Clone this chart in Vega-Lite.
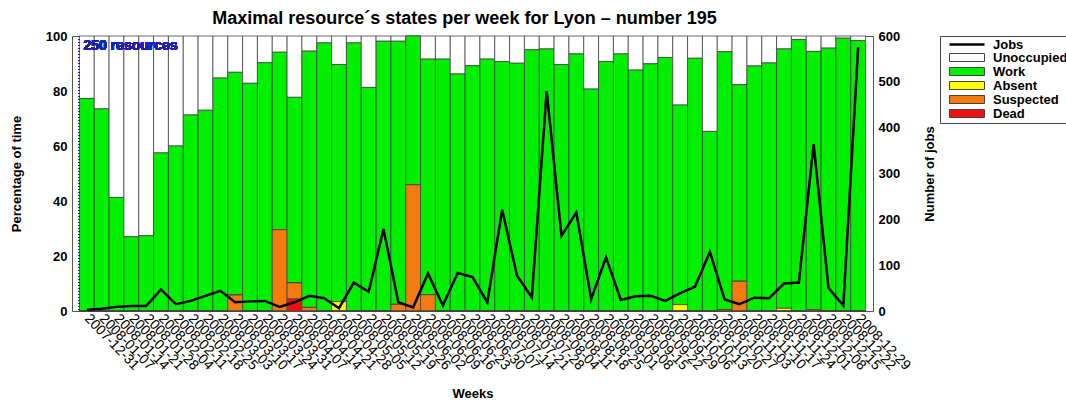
{
  "$schema": "https://vega.github.io/schema/vega-lite/v6.json",
  "width": 801,
  "height": 275,
  "padding": {"left": 10, "top": 10, "right": 0, "bottom": 0},
  "config": {
    "font": "Liberation Sans",
    "view": {"stroke": "#555555", "strokeWidth": 1},
    "axis": {"grid": false, "domain": false, "labelColor": "#000", "titleColor": "#000"}
  },
  "title": {
    "text": "Maximal resource´s states per week for Lyon – number 195",
    "fontSize": 18,
    "fontWeight": "bold",
    "frame": "group",
    "anchor": "middle",
    "dx": -8,
    "offset": 2
  },
  "data": {
    "values": [
      {"week": "2007-12-31", "Unoccupied": 22.7, "Work": 77.3, "Absent": 0, "Suspected": 0, "Dead": 0, "Jobs": 3},
      {"week": "2008-01-07", "Unoccupied": 26.5, "Work": 73.5, "Absent": 0, "Suspected": 0, "Dead": 0, "Jobs": 5},
      {"week": "2008-01-14", "Unoccupied": 58.7, "Work": 41.3, "Absent": 0, "Suspected": 0, "Dead": 0, "Jobs": 9},
      {"week": "2008-01-21", "Unoccupied": 73.0, "Work": 27.0, "Absent": 0, "Suspected": 0, "Dead": 0, "Jobs": 11},
      {"week": "2008-01-28", "Unoccupied": 72.6, "Work": 27.4, "Absent": 0, "Suspected": 0, "Dead": 0, "Jobs": 11},
      {"week": "2008-02-04", "Unoccupied": 42.5, "Work": 57.5, "Absent": 0, "Suspected": 0, "Dead": 0, "Jobs": 47},
      {"week": "2008-02-11", "Unoccupied": 40.0, "Work": 60.0, "Absent": 0, "Suspected": 0, "Dead": 0, "Jobs": 15},
      {"week": "2008-02-18", "Unoccupied": 28.7, "Work": 71.3, "Absent": 0, "Suspected": 0, "Dead": 0, "Jobs": 22},
      {"week": "2008-02-25", "Unoccupied": 27.0, "Work": 73.0, "Absent": 0, "Suspected": 0, "Dead": 0, "Jobs": 33},
      {"week": "2008-03-03", "Unoccupied": 15.3, "Work": 84.7, "Absent": 0, "Suspected": 0, "Dead": 0, "Jobs": 44},
      {"week": "2008-03-10", "Unoccupied": 13.2, "Work": 81.0, "Absent": 0, "Suspected": 5.8, "Dead": 0, "Jobs": 19},
      {"week": "2008-03-17", "Unoccupied": 17.2, "Work": 82.8, "Absent": 0, "Suspected": 0, "Dead": 0, "Jobs": 21},
      {"week": "2008-03-24", "Unoccupied": 9.7, "Work": 90.3, "Absent": 0, "Suspected": 0, "Dead": 0, "Jobs": 22},
      {"week": "2008-03-31", "Unoccupied": 5.9, "Work": 64.5, "Absent": 0, "Suspected": 29.6, "Dead": 0, "Jobs": 9},
      {"week": "2008-04-07", "Unoccupied": 22.3, "Work": 67.5, "Absent": 0, "Suspected": 5.8, "Dead": 4.4, "Jobs": 19},
      {"week": "2008-04-14", "Unoccupied": 5.5, "Work": 93.2, "Absent": 0, "Suspected": 1.3, "Dead": 0, "Jobs": 33},
      {"week": "2008-04-21", "Unoccupied": 2.5, "Work": 97.5, "Absent": 0, "Suspected": 0, "Dead": 0, "Jobs": 28},
      {"week": "2008-04-28", "Unoccupied": 10.4, "Work": 86.2, "Absent": 3.4, "Suspected": 0, "Dead": 0, "Jobs": 6},
      {"week": "2008-05-05", "Unoccupied": 2.5, "Work": 97.5, "Absent": 0, "Suspected": 0, "Dead": 0, "Jobs": 62},
      {"week": "2008-05-12", "Unoccupied": 18.7, "Work": 81.3, "Absent": 0, "Suspected": 0, "Dead": 0, "Jobs": 42},
      {"week": "2008-05-19", "Unoccupied": 1.9, "Work": 98.1, "Absent": 0, "Suspected": 0, "Dead": 0, "Jobs": 179},
      {"week": "2008-05-26", "Unoccupied": 1.9, "Work": 95.7, "Absent": 0, "Suspected": 2.4, "Dead": 0, "Jobs": 19},
      {"week": "2008-06-02", "Unoccupied": 0, "Work": 54.1, "Absent": 0, "Suspected": 45.9, "Dead": 0, "Jobs": 8},
      {"week": "2008-06-09", "Unoccupied": 8.4, "Work": 85.7, "Absent": 0, "Suspected": 5.9, "Dead": 0, "Jobs": 82},
      {"week": "2008-06-16", "Unoccupied": 8.4, "Work": 91.6, "Absent": 0, "Suspected": 0, "Dead": 0, "Jobs": 12},
      {"week": "2008-06-23", "Unoccupied": 13.8, "Work": 86.2, "Absent": 0, "Suspected": 0, "Dead": 0, "Jobs": 83},
      {"week": "2008-06-30", "Unoccupied": 10.8, "Work": 89.2, "Absent": 0, "Suspected": 0, "Dead": 0, "Jobs": 74},
      {"week": "2008-07-07", "Unoccupied": 8.4, "Work": 91.6, "Absent": 0, "Suspected": 0, "Dead": 0, "Jobs": 19},
      {"week": "2008-07-14", "Unoccupied": 9.3, "Work": 90.7, "Absent": 0, "Suspected": 0, "Dead": 0, "Jobs": 221},
      {"week": "2008-07-21", "Unoccupied": 9.9, "Work": 90.1, "Absent": 0, "Suspected": 0, "Dead": 0, "Jobs": 77},
      {"week": "2008-07-28", "Unoccupied": 5.0, "Work": 95.0, "Absent": 0, "Suspected": 0, "Dead": 0, "Jobs": 30},
      {"week": "2008-08-04", "Unoccupied": 4.7, "Work": 95.3, "Absent": 0, "Suspected": 0, "Dead": 0, "Jobs": 480},
      {"week": "2008-08-11", "Unoccupied": 10.4, "Work": 89.6, "Absent": 0, "Suspected": 0, "Dead": 0, "Jobs": 164},
      {"week": "2008-08-18", "Unoccupied": 6.5, "Work": 93.5, "Absent": 0, "Suspected": 0, "Dead": 0, "Jobs": 215},
      {"week": "2008-08-25", "Unoccupied": 19.3, "Work": 80.7, "Absent": 0, "Suspected": 0, "Dead": 0, "Jobs": 26},
      {"week": "2008-09-01", "Unoccupied": 9.3, "Work": 90.7, "Absent": 0, "Suspected": 0, "Dead": 0, "Jobs": 117},
      {"week": "2008-09-08", "Unoccupied": 6.5, "Work": 93.5, "Absent": 0, "Suspected": 0, "Dead": 0, "Jobs": 24},
      {"week": "2008-09-15", "Unoccupied": 12.4, "Work": 87.6, "Absent": 0, "Suspected": 0, "Dead": 0, "Jobs": 32},
      {"week": "2008-09-22", "Unoccupied": 10.1, "Work": 89.9, "Absent": 0, "Suspected": 0, "Dead": 0, "Jobs": 33},
      {"week": "2008-09-29", "Unoccupied": 7.8, "Work": 92.2, "Absent": 0, "Suspected": 0, "Dead": 0, "Jobs": 22},
      {"week": "2008-10-06", "Unoccupied": 25.1, "Work": 72.6, "Absent": 2.3, "Suspected": 0, "Dead": 0, "Jobs": 39},
      {"week": "2008-10-13", "Unoccupied": 8.1, "Work": 91.9, "Absent": 0, "Suspected": 0, "Dead": 0, "Jobs": 53},
      {"week": "2008-10-20", "Unoccupied": 34.7, "Work": 65.3, "Absent": 0, "Suspected": 0, "Dead": 0, "Jobs": 129},
      {"week": "2008-10-27", "Unoccupied": 5.7, "Work": 93.8, "Absent": 0, "Suspected": 0.5, "Dead": 0, "Jobs": 25},
      {"week": "2008-11-03", "Unoccupied": 17.7, "Work": 71.5, "Absent": 0, "Suspected": 10.8, "Dead": 0, "Jobs": 15},
      {"week": "2008-11-10", "Unoccupied": 10.9, "Work": 89.1, "Absent": 0, "Suspected": 0, "Dead": 0, "Jobs": 29},
      {"week": "2008-11-17", "Unoccupied": 9.8, "Work": 90.2, "Absent": 0, "Suspected": 0, "Dead": 0, "Jobs": 28},
      {"week": "2008-11-24", "Unoccupied": 4.7, "Work": 94.3, "Absent": 1.0, "Suspected": 0, "Dead": 0, "Jobs": 60},
      {"week": "2008-12-01", "Unoccupied": 1.3, "Work": 98.7, "Absent": 0, "Suspected": 0, "Dead": 0, "Jobs": 62},
      {"week": "2008-12-08", "Unoccupied": 5.6, "Work": 93.9, "Absent": 0, "Suspected": 0.5, "Dead": 0, "Jobs": 364},
      {"week": "2008-12-15", "Unoccupied": 4.4, "Work": 95.6, "Absent": 0, "Suspected": 0, "Dead": 0, "Jobs": 50},
      {"week": "2008-12-22", "Unoccupied": 0.8, "Work": 99.2, "Absent": 0, "Suspected": 0, "Dead": 0, "Jobs": 12},
      {"week": "2008-12-29", "Unoccupied": 1.7, "Work": 98.3, "Absent": 0, "Suspected": 0, "Dead": 0, "Jobs": 576}
    ]
  },
  "encoding": {
    "x": {
      "field": "week",
      "type": "ordinal",
      "scale": {"paddingInner": 0, "paddingOuter": 0.5},
      "axis": {
        "title": "Weeks",
        "titleFontSize": 13,
        "titleFontWeight": "bold",
        "titlePadding": 15,
        "labelAngle": 46,
        "labelAlign": "left",
        "labelBaseline": "middle",
        "labelFontSize": 14,
        "labelPadding": 5,
        "labelOverlap": false,
        "ticks": false
      }
    }
  },
  "layer": [
    {
      "layer": [
        {
          "transform": [
            {"fold": ["Unoccupied", "Work", "Absent", "Suspected", "Dead"], "as": ["state", "pct"]},
            {"calculate": "indexof(['Dead', 'Suspected', 'Absent', 'Work', 'Unoccupied'], datum.state)", "as": "stackOrder"}
          ],
          "mark": {"type": "bar", "stroke": "#444444", "strokeWidth": 0.8},
          "encoding": {
            "y": {
              "field": "pct",
              "type": "quantitative",
              "stack": "zero",
              "scale": {"domain": [0, 100], "nice": false},
              "axis": {
                "title": "Percentage of time",
                "titleFontSize": 13,
                "titleFontWeight": "bold",
                "titlePadding": 22,
                "values": [0, 20, 40, 60, 80, 100],
                "labelFontSize": 13,
                "labelFontWeight": "bold",
                "labelPadding": 5,
                "ticks": false
              }
            },
            "order": {"field": "stackOrder", "type": "quantitative", "sort": "ascending"},
            "color": {
              "field": "state",
              "type": "nominal",
              "scale": {
                "domain": ["Unoccupied", "Work", "Absent", "Suspected", "Dead"],
                "range": ["#ffffff", "#00f000", "#ffff00", "#f57a10", "#f01010"]
              },
              "legend": {
                "title": " ",
                "titleFontSize": 13,
                "titlePadding": 0,
                "orient": "none",
                "legendX": 868,
                "legendY": 0,
                "strokeColor": "#444444",
                "padding": 2,
                "labelFontSize": 13,
                "labelFontWeight": "bold",
                "symbolSize": 64,
                "symbolType": "M0.25,-1H9V1H0.25Z",
                "rowPadding": 0,
                "labelOffset": 38,
                "symbolStrokeWidth": 1
              }
            }
          }
        },
        {
          "mark": {"type": "rule", "color": "#2020c0", "strokeDash": [1, 2], "strokeWidth": 1},
          "encoding": {
            "x": {"datum": "2007-12-31", "type": "ordinal", "bandPosition": 0}
          }
        },
        {
          "mark": {"type": "text", "text": "250 resources", "color": "#2020b0", "fontWeight": "bold", "fontSize": 14, "align": "left", "baseline": "middle", "dx": 4, "dy": 10},
          "encoding": {
            "x": {"datum": "2007-12-31", "type": "ordinal", "bandPosition": 0},
            "y": {"datum": 100, "type": "quantitative"}
          }
        }
      ]
    },
    {
      "mark": {"type": "line", "strokeWidth": 2.5},
      "encoding": {
        "y": {
          "field": "Jobs",
          "type": "quantitative",
          "scale": {"domain": [0, 600], "nice": false},
          "axis": {
            "orient": "right",
            "title": "Number of jobs",
            "titleFontSize": 13,
            "titleFontWeight": "bold",
            "titlePadding": 37,
            "titleAngle": -90,
            "values": [0, 100, 200, 300, 400, 500, 600],
            "labelFontSize": 13,
            "labelFontWeight": "bold",
            "labelPadding": 5,
            "ticks": false
          }
        },
        "stroke": {
          "datum": "Jobs",
          "type": "nominal",
          "scale": {"domain": ["Jobs"], "range": ["#000000"]},
          "legend": {
            "title": null,
            "orient": "none",
            "legendX": 868,
            "legendY": 0,
            "padding": 2,
            "labelFontSize": 13,
            "labelFontWeight": "bold",
            "symbolSize": 64,
            "symbolType": "M0.25,0H9",
            "symbolStrokeWidth": 2.5,
            "symbolStrokeColor": "#000000",
            "labelOffset": 38
          }
        }
      }
    }
  ],
  "resolve": {"scale": {"y": "independent"}}
}
